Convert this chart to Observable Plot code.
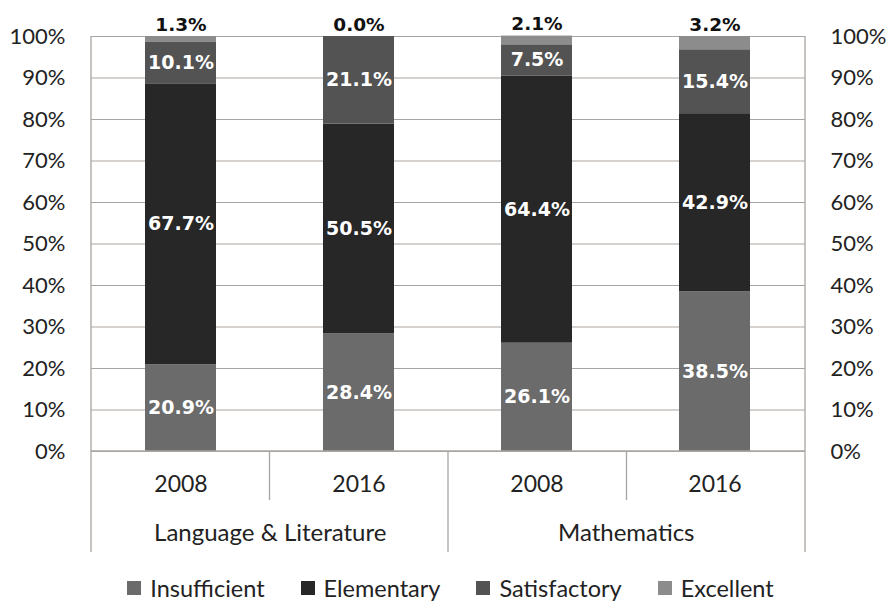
<!DOCTYPE html>
<html><head><meta charset="utf-8">
<script src="https://cdn.jsdelivr.net/npm/d3@7"></script>
<script src="https://cdn.jsdelivr.net/npm/@observablehq/plot@0.6"></script>
<style>
body{margin:0;background:#fff;}
#chart svg{display:block;}
#legend{display:flex;justify-content:center;align-items:center;height:32px;font-family:Lato,sans-serif;font-size:23.5px;color:#222;margin-left:10px;}
#legend .item{display:flex;align-items:center;margin:0 18px;}
#legend .sw{width:14px;height:14px;margin-right:9px;display:inline-block;}
</style></head><body>
<div id="chart"></div><div id="legend"></div>
<script>
const subjects = ["Language & Literature", "Mathematics"];
const years = ["2008", "2016"];
const levels = ["Insufficient", "Elementary", "Satisfactory", "Excellent"];
const colors = ["#6b6b6b", "#272727", "#535353", "#8c8c8c"];
// values per bar: LL 2008, LL 2016, Math 2008, Math 2016
const insufficient = [20.9, 28.4, 26.1, 38.5];
const elementary = [67.7, 50.5, 64.4, 42.9];
const satisfactory = [10.1, 21.1, 7.5, 15.4];
const excellent = [1.3, 0.0, 2.1, 3.2];
const yTicks = [0, 10, 20, 30, 40, 50, 60, 70, 80, 90, 100];

const series = [insufficient, elementary, satisfactory, excellent];
const keys = [];
subjects.forEach(s => years.forEach(y => keys.push(s + "|" + y)));
const rows = [];
keys.forEach((k, i) => levels.forEach((lev, j) => rows.push({key: k, subject: k.split("|")[0], year: k.split("|")[1], level: lev, value: series[j][i]})));

const W = 891, H = 572, mL = 91, mR = 86, mT = 36, mB = 121;
const step = (W - mL - mR) / keys.length;
const gridColor = "#a9a4a0";

const plot = Plot.plot({
  width: W, height: H, marginTop: mT, marginBottom: mB, marginLeft: mL, marginRight: mR,
  style: {fontFamily: "Lato, sans-serif", fontSize: "22px", color: "#222", background: "#fff"},
  x: {domain: keys, paddingInner: 0.6, paddingOuter: 0.3, axis: null},
  y: {domain: [0, 100], axis: null},
  color: {domain: levels, range: colors},
  marks: [
    Plot.gridY(yTicks, {stroke: gridColor, strokeOpacity: 1, strokeWidth: 1.2}),
    Plot.barY(rows, {x: "key", y: "value", fill: "level"}),
    Plot.text(rows, Plot.stackY({x: "key", y: "value", z: "level",
      text: d => d.level === "Excellent" ? "" : d.value.toFixed(1) + "%",
      fill: "white", fontFamily: "DejaVu Sans", fontWeight: "bold", fontSize: 19})),
    Plot.text(rows, Plot.stackY2({x: "key", y: "value", z: "level",
      text: d => d.level === "Excellent" ? d.value.toFixed(1) + "%" : "",
      fill: "#111", fontFamily: "DejaVu Sans", fontWeight: "bold", fontSize: 18.5,
      lineAnchor: "bottom", dy: -6})),
    Plot.axisY(yTicks, {anchor: "left", label: null, tickSize: 0, tickPadding: 26, tickFormat: d => d + "%"}),
    Plot.axisY(yTicks, {anchor: "right", label: null, tickSize: 0, tickPadding: 25, tickFormat: d => d + "%"}),
    Plot.axisX(keys, {anchor: "bottom", label: null, tickSize: 0, tickPadding: 24, fontSize: 23, tickFormat: d => d.split("|")[1]}),
    Plot.axisX(keys.filter((k, i) => i % 2 === 0), {anchor: "bottom", label: null, tickSize: 0, tickPadding: 72, fontSize: 24, dx: step / 2, tickFormat: d => d.split("|")[0]})
  ]
});

// frame lines and category separators, positioned via the plot's scales
const ys = plot.scale("y");
const y0 = ys.apply(0), y100 = ys.apply(100);
const svg = d3.select(plot);
const g = svg.append("g").attr("stroke", gridColor).attr("stroke-width", 1.3);
const xb = i => mL + i * step;
const sepShort = y0 + 49, sepLong = y0 + 101;
[[xb(0), y100, sepLong], [xb(4), y100, sepLong], [xb(2), y0, sepLong], [xb(1), y0, sepShort], [xb(3), y0, sepShort]]
  .forEach(([x, a, b]) => g.append("line").attr("x1", x).attr("x2", x).attr("y1", a).attr("y2", b));
g.append("line").attr("x1", xb(0)).attr("x2", xb(4)).attr("y1", y0).attr("y2", y0);

document.getElementById("chart").appendChild(plot);

const leg = d3.select("#legend");
levels.forEach((lev, i) => {
  const it = leg.append("div").attr("class", "item");
  it.append("span").attr("class", "sw").style("background", colors[i]);
  it.append("span").text(lev);
});
</script>
</body></html>
